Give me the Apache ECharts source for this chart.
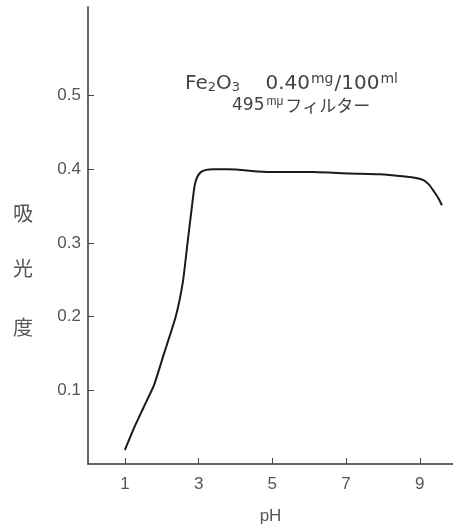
<!DOCTYPE html>
<html>
<head>
<meta charset="utf-8">
<script src="https://cdn.jsdelivr.net/npm/echarts@6/dist/echarts.min.js"></script>
<style>
  html, body { margin: 0; padding: 0; background: #fff; }
  #chart { width: 453px; height: 530px; }
</style>
</head>
<body>
<div id="chart"></div>
<script>
// pH vs absorbance, Fe2O3 0.40mg/100ml
var phValues = [1.0, 1.25, 1.51, 1.79, 2.05, 2.38, 2.57, 2.7, 2.84, 2.89, 2.96, 3.06, 3.2, 3.4, 3.8, 4.95, 6.1, 7.1, 7.9, 8.6, 8.9, 9.1, 9.25, 9.38, 9.5, 9.6];
var absValues = [0.019, 0.049, 0.077, 0.107, 0.148, 0.2, 0.246, 0.3, 0.358, 0.377, 0.389, 0.396, 0.399, 0.4, 0.4, 0.396, 0.396, 0.394, 0.393, 0.39, 0.388, 0.385, 0.379, 0.37, 0.361, 0.351];
var xTicks = [1, 3, 5, 7, 9];
var yTicks = [0.1, 0.2, 0.3, 0.4, 0.5];

var points = phValues.map(function (p, i) { return [p, absValues[i]]; });

var labelFont = 'Liberation Sans';
var cjkFont = 'Noto Sans CJK JP';

var myechart = echarts.init(document.getElementById('chart'));

var option = {
  backgroundColor: '#fff',
  animation: false,
  grid: {
    left: 88,
    right: 0,
    top: 7,
    bottom: 66
  },
  xAxis: {
    type: 'value',
    min: 0,
    max: 9.9,
    name: 'pH',
    nameLocation: 'middle',
    nameGap: 44,
    nameTextStyle: { fontFamily: labelFont, fontSize: 17, color: '#555' },
    axisLine: { show: true, onZero: false, lineStyle: { color: '#333', width: 1.5 } },
    axisTick: { show: true, inside: true, length: 6, customValues: xTicks, lineStyle: { color: '#444' } },
    axisLabel: { customValues: xTicks, fontFamily: labelFont, fontSize: 17, color: '#555', margin: 12 },
    splitLine: { show: false }
  },
  yAxis: {
    type: 'value',
    min: 0,
    max: 0.62,
    axisLine: { show: true, onZero: false, lineStyle: { color: '#333', width: 1.5 } },
    axisTick: { show: true, inside: true, length: 6, customValues: yTicks, lineStyle: { color: '#444' } },
    axisLabel: {
      customValues: yTicks,
      fontFamily: labelFont,
      fontSize: 17,
      color: '#555',
      margin: 7,
      formatter: function (v) { return v.toFixed(1); }
    },
    splitLine: { show: false }
  },
  graphic: [
    { type: 'text', left: 13, top: 203, style: { text: '吸', font: '20px "' + cjkFont + '"', fill: '#555' } },
    { type: 'text', left: 13, top: 258, style: { text: '光', font: '20px "' + cjkFont + '"', fill: '#555' } },
    { type: 'text', left: 13, top: 317, style: { text: '度', font: '20px "' + cjkFont + '"', fill: '#555' } },
    {
      type: 'text',
      left: 185,
      top: 72,
      style: {
        text: '{n|Fe}{s|2}{n|O}{s|3}{n|    0.40}{u|mg}{n|/100}{u|ml}',
        fill: '#444',
        rich: {
          n: { fontFamily: 'DejaVu Sans', fontSize: 20, color: '#444', verticalAlign: 'bottom' },
          s: { fontFamily: 'DejaVu Sans', fontSize: 13, color: '#444', padding: [6, 0, 0, 0], verticalAlign: 'bottom' },
          u: { fontFamily: 'DejaVu Sans', fontSize: 14, color: '#444', padding: [0, 1, 8, 1], verticalAlign: 'bottom' }
        }
      }
    },
    {
      type: 'text',
      left: 232,
      top: 96,
      style: {
        text: '{n|495}{u|mμ}{k|フィルター}',
        fill: '#444',
        rich: {
          n: { fontFamily: 'DejaVu Sans', fontSize: 17, color: '#444', verticalAlign: 'bottom' },
          u: { fontFamily: labelFont, fontSize: 12, color: '#444', padding: [0, 2, 6, 2], verticalAlign: 'bottom' },
          k: { fontFamily: cjkFont, fontSize: 17, color: '#444', verticalAlign: 'bottom' }
        }
      }
    }
  ],
  series: [
    {
      type: 'line',
      data: points,
      smooth: 0.2,
      symbol: 'none',
      lineStyle: { color: '#1a1a1a', width: 2 }
    }
  ]
};

myechart.setOption(option);
</script>
</body>
</html>
